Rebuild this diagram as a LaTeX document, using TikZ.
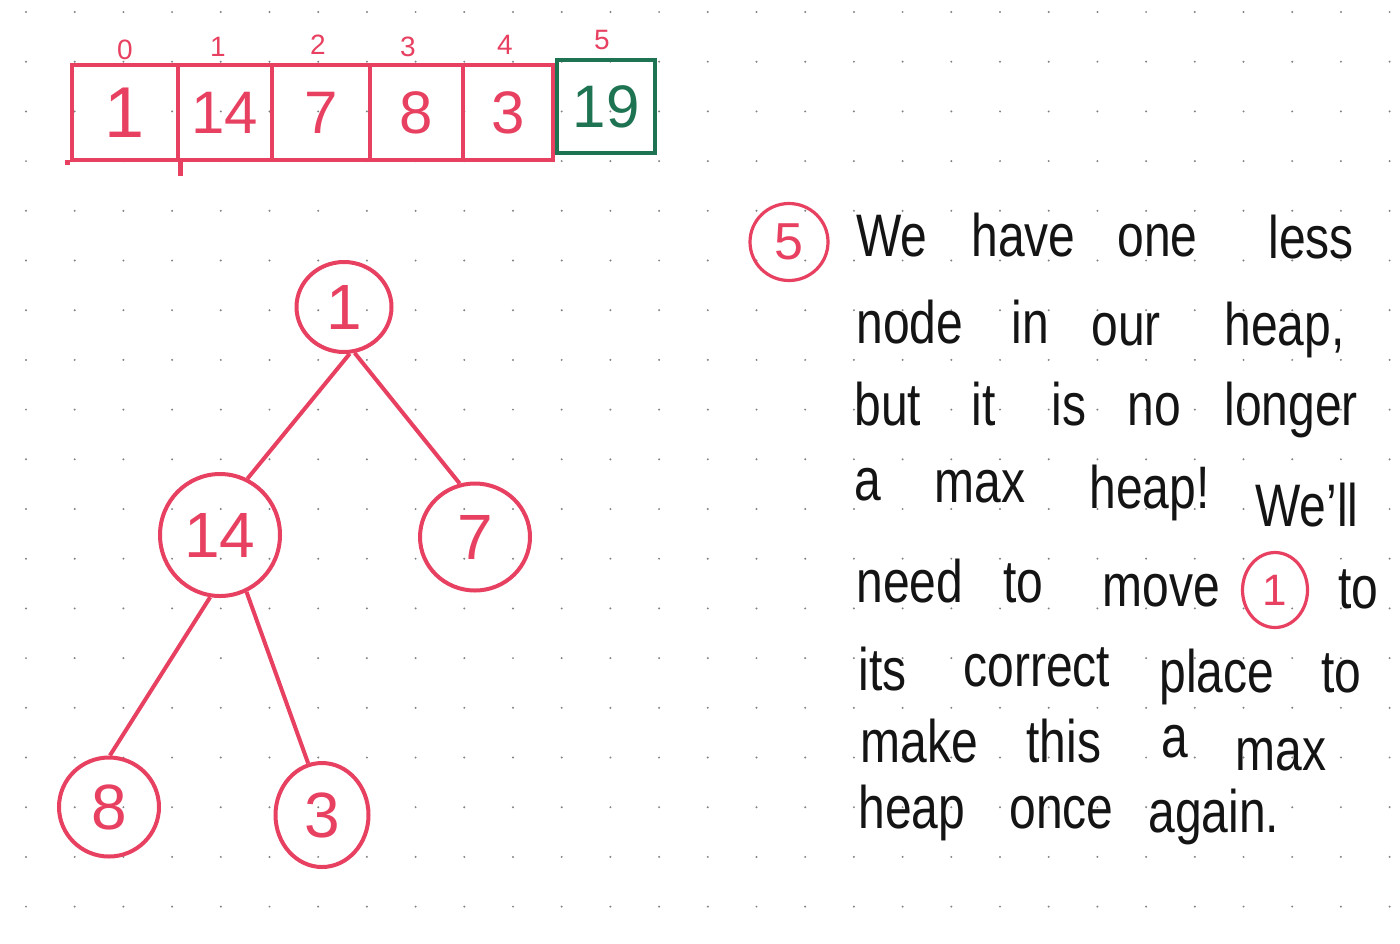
\documentclass[tikz,border=0pt]{standalone}
\usepackage{fontspec}
\setmainfont{Liberation Sans}
\usepackage{graphicx}
\usetikzlibrary{shapes.geometric}
\definecolor{penred}{RGB}{232,64,96}
\definecolor{pengreen}{RGB}{30,115,82}
\definecolor{ink}{RGB}{20,20,20}
\definecolor{dotc}{RGB}{130,130,130}
\newcommand{\tallw}[1]{\scalebox{1}[1.25]{#1}}
\begin{document}
\begin{tikzpicture}[x=0.5pt,y=-0.5pt,
  cell/.style={draw=penred,line width=2.4pt,minimum height=47.5pt,inner sep=0pt,
    text=penred,font=\fontsize{30}{30}\selectfont},
  gcell/.style={cell,draw=pengreen,text=pengreen},
  idx/.style={inner sep=0pt,text=penred,font=\fontsize{14}{14}\selectfont},
  tnode/.style={ellipse,draw=penred,line width=2pt,inner sep=0pt,text=penred,
    font=\fontsize{32}{32}\selectfont},
  edge/.style={draw=penred,line width=2pt},
  word/.style={anchor=base west,inner sep=0pt,text=ink,font=\fontsize{24}{24}\selectfont},
  ringmark/.style={ellipse,draw=penred,line width=1.6pt,inner sep=0pt,text=penred}
]
\useasboundingbox (0,0) rectangle (1400,943);
\fill[white] (0,0) rectangle (1400,943);
% dot grid
\foreach \i in {0,...,28}{
  \foreach \j in {0,...,18}{
    \fill[dotc] (26+48.7*\i,12+49.7*\j) circle[radius=0.55pt];
  }
}
% array
\node[cell,minimum width=53pt] (c0) at (125,112.5) {\fontsize{36}{36}\selectfont 1};
\node[cell,minimum width=47pt] (c1) at (225,112.5) {14};
\node[cell,minimum width=49pt] (c2) at (321,112.5) {7};
\node[cell,minimum width=46.5pt] (c3) at (416.5,112.5) {8};
\node[cell,minimum width=45pt] (c4) at (508,112.5) {3};
\node[gcell,minimum width=49pt,minimum height=46.5pt] (c5) at (606,106.5) {19};
\draw[draw=penred,line width=2.4pt] (c0.south east) -- ++(0,14);
\draw[draw=penred,line width=2.4pt] (c0.south west) -- ++(-5,0);
\node[idx] (i0) at (125,50) {0};
\node[idx] (i1) at (218,47) {1};
\node[idx] (i2) at (318,45) {2};
\node[idx] (i3) at (408,47) {3};
\node[idx] (i4) at (505,45) {4};
\node[idx] (i5) at (602,40) {5};
% tree
\node[tnode,minimum width=47.5pt,minimum height=45pt] (root) at (344,307) {1};
\node[tnode,minimum width=60pt,minimum height=61pt] (n14) at (220,535) {14};
\node[tnode,minimum width=55pt,minimum height=53.5pt] (n7) at (475,537) {7};
\node[tnode,minimum width=50pt,minimum height=49.5pt] (n8) at (109,807) {8};
\node[tnode,minimum width=46.5pt,minimum height=52pt] (n3) at (322,815) {3};
\draw[edge] (root.-83) -- (n14.64);
\draw[edge] (root.-77) -- (n7.106);
\draw[edge] (n14.-99) -- (n8.89);
\draw[edge] (n14.-65) -- (n3.105);
% step marker
\node[ringmark,minimum width=39pt,minimum height=38.5pt,font=\fontsize{26}{26}\selectfont] (s5) at (789,242) {5};
% text
\foreach \t/\x/\y [count=\k] in {
  We/856/256, have/971/256, one/1117/256, less/1268/258,
  node/856/343, in/1011/343, our/1091/345, {heap,}/1224/345,
  but/854/425, it/971/425, is/1051/425, no/1127/425, longer/1224/425,
  a/854/500, max/934/502, heap!/1089/508, We’ll/1255/526,
  need/856/602, to/1003/602, move/1102/606, to/1338/608,
  its/858/690, correct/963/686, place/1159/692, to/1321/692,
  make/860/762, this/1026/762, a/1161/757, max/1235/770,
  heap/858/828, once/1009/828, again./1148/832}{
  \node[word] (w\k) at (\x,\y) {\tallw{\t}};
}
\node[ringmark,minimum width=32.5pt,minimum height=37.5pt,font=\fontsize{22}{22}\selectfont] (m1) at (1275,590) {1};
\end{tikzpicture}
\end{document}
